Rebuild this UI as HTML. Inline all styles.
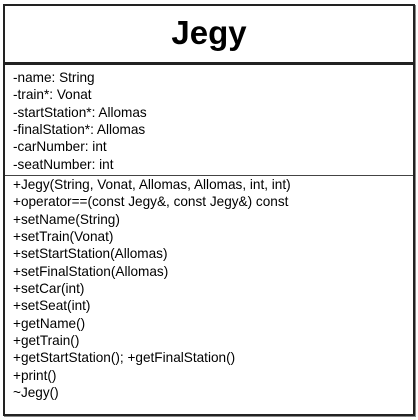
<!DOCTYPE html>
<html><head><style>
html,body{margin:0;padding:0;background:#fff;width:418px;height:420px;overflow:hidden}
#box{position:absolute;left:3px;top:4px;width:408px;height:408px;border:2px solid #222;box-shadow:1px 1px 0 #888}
.t{position:absolute;left:0;width:408px;top:8px;text-align:center;font:bold 33px "Liberation Sans",sans-serif;color:#000}
.bar{position:absolute;left:0;width:408px;background:#222}
.l{position:absolute;left:8px;font:13.6px/17.35px "Liberation Sans",sans-serif;color:#000;white-space:pre}
</style></head><body>
<div id="box">
<div class="t">Jegy</div>
<div class="bar" style="top:56px;height:3px"></div>
<div class="l" style="top:63px">-name: String
-train*: Vonat
-startStation*: Allomas
-finalStation*: Allomas
-carNumber: int
-seatNumber: int</div>
<div class="bar" style="top:169px;height:1px;background:#444"></div>
<div class="l" style="top:170px">+Jegy(String, Vonat, Allomas, Allomas, int, int)
+operator==(const Jegy&amp;, const Jegy&amp;) const
+setName(String)
+setTrain(Vonat)
+setStartStation(Allomas)
+setFinalStation(Allomas)
+setCar(int)
+setSeat(int)
+getName()
+getTrain()
+getStartStation(); +getFinalStation()
+print()
~Jegy()</div>
</div>
</body></html>
